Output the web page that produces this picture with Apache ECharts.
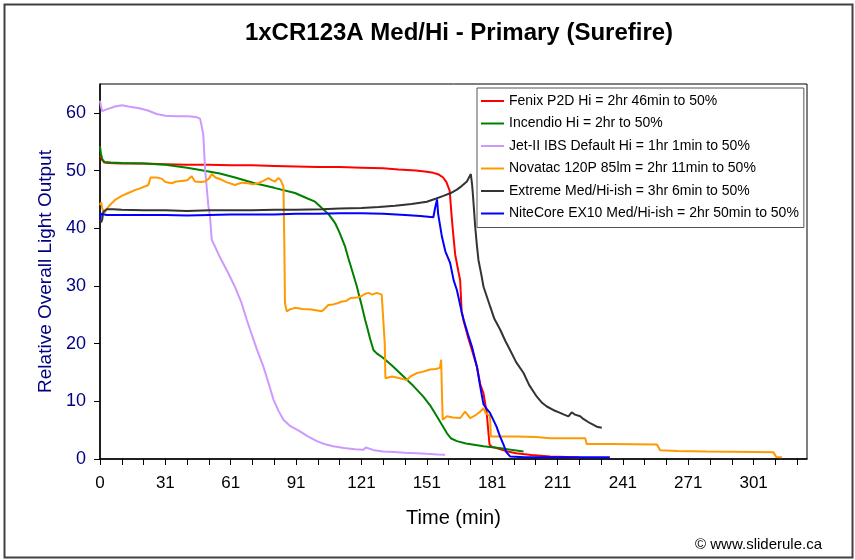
<!DOCTYPE html>
<html>
<head>
<meta charset="utf-8">
<script src="https://cdn.jsdelivr.net/npm/echarts@6/dist/echarts.min.js"></script>
<style>
html,body{margin:0;padding:0;background:#fff;}
#chart{width:855px;height:560px;}
</style>
</head>
<body>
<div id="chart"></div>
<script>
// Time axis is in "tick units" (one minor tick = 10 units); labels as printed on the original axis.
const xTickLabels = ['0','31','61','91','121','151','181','211','241','271','301'];
const yTickValues = [0,10,20,30,40,50,60];

const seriesNames = [
  'Fenix P2D Hi = 2hr 46min to 50%',
  'Incendio Hi = 2hr to 50%',
  'Jet-II IBS Default Hi = 1hr 1min to 50%',
  'Novatac 120P 85lm = 2hr 11min to 50%',
  'Extreme Med/Hi-ish = 3hr 6min to 50%',
  'NiteCore EX10 Med/Hi-ish = 2hr 50min to 50%'
];
const seriesColors = ['#FF0000','#008000','#CC99FF','#FF9900','#333333','#0000FF'];

const fenix = [[0,52.6],[0.5,52.2],[1,51.8],[2,51.4],[4,51.3],[10,51.2],[20,51.2],[30,51.1],[40,51.0],[50,51.0],[60,50.9],[70,50.9],[80,50.8],[90,50.7],[100,50.6],[110,50.6],[120,50.5],[130,50.4],[137,50.2],[145,50.0],[150,49.8],[153,49.6],[155.5,49.3],[157.5,48.8],[159,48.0],[160.5,46.5],[161.2,43.0],[161.8,40.3],[163,35.5],[164.5,32.5],[165.3,31.0],[166,25.5],[167,23.8],[169,21.0],[171,18.5],[173,16.0],[174.5,13.0],[176,11.4],[177.5,8.0],[178.3,4.5],[178.8,2.5],[180,2.1],[182,1.9],[186,1.4],[191,1.0],[198,0.7],[206.6,0.45],[214,0.35],[220,0.25]];

const incendio = [[0,54.2],[0.4,53.0],[1,52.0],[2,51.5],[5,51.4],[10,51.3],[20,51.2],[30,51.0],[40,50.5],[46,50.1],[55,49.5],[62,48.8],[71,47.8],[80,47.0],[89.5,46.1],[95,45.2],[98.7,44.6],[101.8,43.5],[105,42.4],[107.9,40.9],[110,39.2],[112.5,36.8],[114,34.8],[115.6,32.8],[117.9,29.9],[118.6,28.8],[120,26.8],[121.7,24.1],[122.5,23.0],[124,20.8],[125.5,18.9],[127,18.3],[130,17.5],[134,16.2],[139.3,14.3],[144,12.6],[148.4,10.8],[151.5,9.3],[154.6,7.4],[157,5.9],[159.2,4.5],[161,3.6],[163.8,3.1],[168,2.7],[176,2.2],[185,1.8],[194.4,1.3]];

const jet2 = [[0,62.1],[0.5,61.0],[1,60.3],[3,60.6],[6.9,61.1],[10,61.3],[13,61.1],[18,60.8],[22,60.4],[26,59.8],[30,59.5],[35,59.4],[40.5,59.4],[44,59.3],[45.9,59.0],[46.5,58.0],[47.4,56.2],[48.2,50.4],[49.7,44.0],[50.5,42.0],[51.3,38.0],[52.8,36.8],[55,35.0],[58.9,32.2],[62,29.8],[65,27.0],[67.4,24.1],[68.9,22.4],[72,19.0],[75,16.0],[77.5,13.0],[79.6,10.3],[82,8.3],[84.2,6.8],[87,5.8],[91.8,4.8],[95,4.0],[99.5,3.1],[103,2.6],[107,2.2],[112,1.9],[117,1.7],[120.9,1.6],[122,2.0],[122.8,1.7],[126,1.5],[130,1.3],[135,1.2],[140,1.1],[145.4,1.0],[150,0.9],[155,0.8],[158.4,0.75]];

const novatac = [[0,44.0],[0.5,44.5],[1,43.5],[2,42.6],[4,43.8],[6.9,44.9],[10,45.6],[13,46.1],[16,46.6],[19,47.0],[22.2,47.5],[23.2,48.8],[24,49.0],[26,48.8],[28.3,48.6],[30,48.0],[32.9,47.8],[35,48.1],[37.5,48.2],[40,48.3],[42.1,49.0],[43.6,48.1],[46,48.0],[48.2,48.1],[50,48.6],[51.3,49.4],[53,48.8],[55.9,48.4],[58,48.0],[62,47.5],[65,47.9],[68.1,47.8],[70,47.6],[72.7,47.8],[75,48.2],[77.3,48.7],[79,48.3],[80.3,48.1],[81.9,48.7],[83,48.3],[84.2,47.2],[84.6,37.4],[84.9,27.0],[85.7,25.6],[87,25.9],[89.5,26.2],[93,26.0],[97,25.9],[101.8,25.6],[103,26.0],[104.8,26.7],[107,26.8],[109,27.0],[111,27.3],[113,27.4],[115,27.9],[118,28.0],[120,28.2],[121.5,28.6],[123.2,28.8],[125,28.5],[127,28.8],[129.3,28.5],[130.2,28.3],[130.7,20.0],[131,14.0],[134,14.3],[137.7,14.0],[139.5,13.8],[140.8,13.7],[142.5,14.3],[145.4,14.9],[148,15.1],[151.5,15.5],[154,15.6],[156,15.8],[156.6,17.2],[156.9,12.0],[157.3,6.8],[159.2,7.4],[162,7.2],[165.3,7.1],[167.6,8.2],[169.9,7.1],[172,7.5],[174.5,8.2],[176,8.8],[177,8.0],[179,7.4],[179.4,3.9],[185,3.9],[191.3,3.9],[200,3.8],[206.6,3.6],[215,3.6],[222.7,3.6],[223.4,2.6],[235,2.6],[245,2.55],[255.6,2.5],[257.1,1.5],[265,1.4],[278.6,1.3],[290,1.25],[300,1.2],[309.1,1.15],[310.4,0.35],[313,0.3]];

const extreme = [[0,41.6],[0.5,41.0],[1,41.5],[1.5,42.8],[3,43.3],[6,43.3],[10,43.2],[20,43.1],[30,43.1],[40,43.0],[50,43.1],[60,43.1],[70,43.1],[80,43.2],[90,43.2],[101.8,43.3],[110,43.4],[120,43.5],[128,43.7],[135.4,43.9],[143,44.2],[150,44.6],[154,45.1],[157.6,45.6],[161,46.1],[163.8,46.7],[166,47.3],[168.4,48.1],[169.5,48.9],[170.2,49.4],[170.8,47.5],[171.1,46.1],[171.7,43.0],[172.2,40.3],[173,37.0],[173.7,34.5],[175,32.0],[176,29.9],[179.1,26.4],[181,24.3],[183.7,22.4],[186,20.5],[188.2,18.9],[191,16.8],[194.4,14.9],[197,12.8],[200.5,10.8],[203,9.7],[205.1,9.1],[208,8.5],[211.2,8.0],[213,7.7],[215,7.4],[216.5,8.1],[218,7.7],[220.4,7.4],[222,6.9],[225,6.2],[228,5.6],[230.3,5.4]];

const nitecore = [[0,41.5],[0.5,42.5],[1,42.2],[3,42.3],[10,42.3],[20,42.3],[30,42.3],[40,42.2],[50,42.3],[60,42.4],[70,42.4],[80,42.4],[90,42.5],[100,42.5],[110,42.6],[120,42.6],[130,42.5],[140,42.3],[147,42.1],[153,41.9],[153.8,43.5],[154.7,45.0],[155.2,42.5],[156.9,38.6],[158.5,36.0],[160.7,34.0],[162.3,31.0],[163.8,29.3],[166,25.5],[167,24.0],[169,21.5],[170.7,19.5],[173,16.0],[174.5,12.6],[176,9.5],[177.5,8.7],[179,8.0],[182,5.6],[183.5,4.0],[185.2,2.5],[186.5,1.2],[188.2,0.45],[195,0.3],[210,0.3],[225,0.3],[234,0.3]];

const allData = [fenix, incendio, jet2, novatac, extreme, nitecore];

const FONT = '"Liberation Sans", Arial, sans-serif';
const xLabelPos = xTickLabels.map((_, i) => i * 30);
const xTickPos = [];
for (let v = 0; v <= 320; v += 10) xTickPos.push(v);

const chart = echarts.init(document.getElementById('chart'), null, {renderer: 'canvas'});
chart.setOption({
  animation: false,
  backgroundColor: '#fff',
  textStyle: {fontFamily: FONT},
  title: {
    text: '1xCR123A Med/Hi - Primary (Surefire)',
    left: 454, top: 16, textAlign: 'center',
    textStyle: {fontSize: 24, fontWeight: 'bold', color: '#000', fontFamily: FONT}
  },
  legend: {
    orient: 'vertical', left: 477, top: 88,
    padding: [5, 5, 6, 4], itemGap: 6.5,
    itemWidth: 23, itemHeight: 2, icon: 'rect',
    borderColor: '#555', borderWidth: 1, backgroundColor: '#fff',
    selectedMode: false,
    textStyle: {fontSize: 14, color: '#000', lineHeight: 16, fontFamily: FONT},
    data: seriesNames
  },
  grid: {left: 100, right: 48, top: 84, bottom: 101, show: true, borderColor: '#000', borderWidth: 1, backgroundColor: '#fff'},
  xAxis: {
    type: 'value', min: 0, max: 324.5, interval: 10,
    name: 'Time (min)', nameLocation: 'middle', nameGap: 49,
    nameTextStyle: {fontSize: 20, color: '#000', fontFamily: FONT},
    axisLine: {lineStyle: {color: '#000', width: 1.5}},
    axisTick: {show: true, inside: false, length: 6, lineStyle: {color: '#000'}, customValues: xTickPos},
    axisLabel: {
      customValues: xLabelPos, margin: 16, fontSize: 17, color: '#000', fontFamily: FONT,
      formatter: v => (Math.abs(v % 30) < 1e-6 && v / 30 < xTickLabels.length) ? xTickLabels[Math.round(v / 30)] : ''
    },
    splitLine: {show: false}
  },
  yAxis: {
    type: 'value', min: 0, max: 65, interval: 10,
    name: 'Relative Overall Light Output', nameLocation: 'middle', nameGap: 45, nameRotate: 90,
    nameTextStyle: {fontSize: 19, color: '#000080', fontFamily: FONT},
    axisLine: {show: true, lineStyle: {color: '#000', width: 1.5}},
    axisTick: {show: true, inside: false, length: 6, lineStyle: {color: '#000'}, customValues: yTickValues},
    axisLabel: {
      customValues: yTickValues, margin: 14, fontSize: 18, color: '#000080', fontFamily: FONT,
      formatter: v => (v <= 60 ? String(v) : '')
    },
    splitLine: {show: false}
  },
  graphic: [
    {type: 'rect', left: 2, top: 2, shape: {width: 848, height: 553}, style: {fill: 'none', stroke: '#404040', lineWidth: 2}, silent: true, z: 100},
    {type: 'text', right: 33, top: 537, style: {text: '\u00A9 www.sliderule.ca', fontSize: 15, fill: '#000', fontFamily: FONT}}
  ],
  series: allData.map((d, i) => ({
    name: seriesNames[i], type: 'line', data: d,
    showSymbol: false, symbol: 'none',
    lineStyle: {width: 2, color: seriesColors[i]},
    itemStyle: {color: seriesColors[i]}
  }))
});
</script>
</body>
</html>
